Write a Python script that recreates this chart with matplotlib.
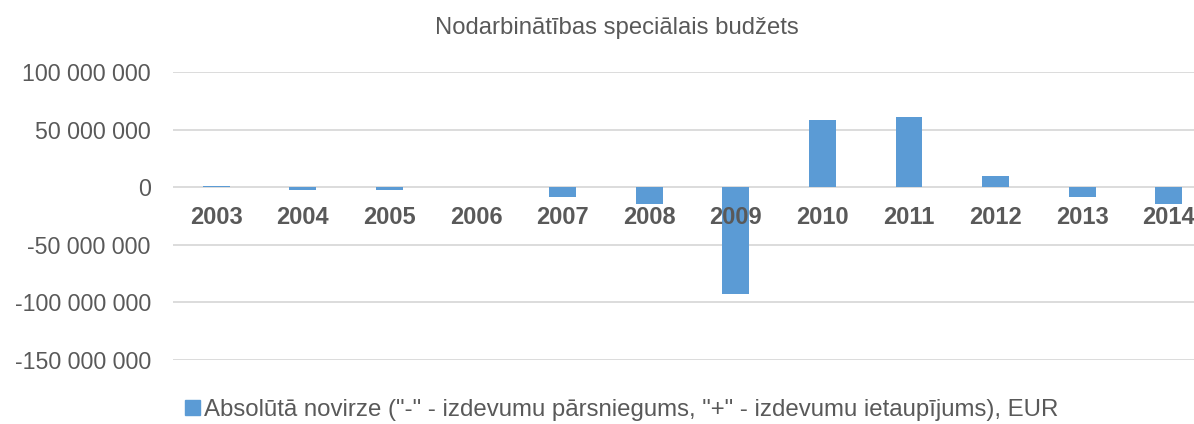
import matplotlib
matplotlib.use("Agg")
import matplotlib.pyplot as plt
from matplotlib.patches import Patch
import matplotlib.transforms as mtransforms
import numpy as np

plt.rcParams['font.family'] = ['Liberation Sans', 'DejaVu Sans']

years = ['2003', '2004', '2005', '2006', '2007', '2008',
         '2009', '2010', '2011', '2012', '2013', '2014']
deviation = [1.3e6, -2.0e6, -2.2e6, 0.0, -8.7e6, -15.0e6,
             -93.0e6, 58.0e6, 61.0e6, 9.8e6, -8.4e6, -14.7e6]
yticks = [100e6, 50e6, 0, -50e6, -100e6, -150e6]

title = 'Nodarbinātības speciālais budžets'
series_label = 'Absolūtā novirze ("-" - izdevumu pārsniegums, "+" - izdevumu ietaupījums), EUR'

bar_color = '#5b9bd5'
text_color = '#595959'
grid_color = '#d9d9d9'

W, H = 1194, 424
fig = plt.figure(figsize=(W / 100, H / 100), dpi=100)
# plot area runs past the right edge, as in the (cropped) original
ax = fig.add_axes([173 / W, 1 - 360 / H, (1212 - 173) / W, (360 - 72) / H])

x = np.arange(len(years))
ax.bar(x, deviation, width=0.31, color=bar_color, zorder=2)

ax.set_xlim(-0.5, len(years) - 0.5)
ax.set_ylim(-150e6, 100e6)
ax.set_yticks(yticks)
ax.set_yticklabels([f'{int(v):,}'.replace(',', ' ') for v in yticks])
ax.tick_params(axis='y', length=0, pad=16, labelsize=16.7, labelcolor=text_color)
ax.set_xticks([])
ax.grid(axis='y', color=grid_color, linewidth=1.3, zorder=0)
ax.set_axisbelow(True)
for s in ax.spines.values():
    s.set_visible(False)

# category labels sit just under the zero line, on top of the bars
trans = ax.transData + mtransforms.ScaledTranslation(0, -30 / 100, fig.dpi_scale_trans)
for xi, yr in zip(x, years):
    ax.text(xi, 0, yr, ha='center', va='center', fontsize=17,
            fontweight='bold', color=text_color, zorder=5, transform=trans)

fig.text(617 / W, 1 - 28 / H, title, ha='center', va='center',
         fontsize=17.2, color=text_color)

fig.legend(handles=[Patch(color=bar_color, label=series_label)],
           loc='center', bbox_to_anchor=(622 / W, 1 - 410 / H),
           frameon=False, fontsize=17.3, labelcolor=text_color,
           handlelength=0.6, handleheight=0.6, handletextpad=0.2)

fig.savefig('out.png', dpi=100)
